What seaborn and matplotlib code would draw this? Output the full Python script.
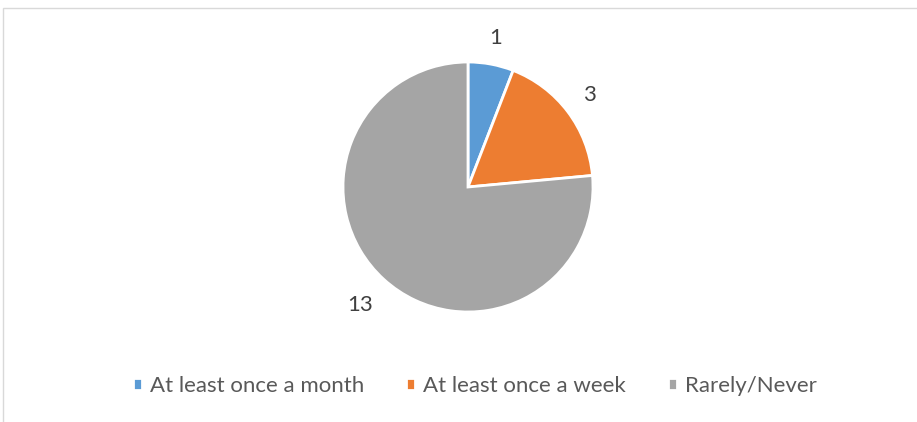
import matplotlib
matplotlib.use("Agg")
import numpy as np
import matplotlib.pyplot as plt
from matplotlib.patches import Rectangle
import seaborn as sns

categories = ["At least once a month", "At least once a week", "Rarely/Never"]
counts = [1, 3, 13]
colors = ["#5B9BD5", "#ED7D31", "#A5A5A5"]
label_dist = [1.21, 1.22, 1.28]

sns.set_theme(style="white")
plt.rcParams["font.family"] = ["Lato", "DejaVu Sans"]

W, H = 917, 422
fig = plt.figure(figsize=(W / 100, H / 100), dpi=100)

# chart frame (extends past right and bottom edges)
fig.patches.append(Rectangle((3 / W, -0.1), 1.1, 1.1 - 8 / H, transform=fig.transFigure,
                             fill=False, edgecolor="#D9D9D9", linewidth=1.0))

cx, cy, r = 468, 187, 125
ax = fig.add_axes([(cx - r) / W, (H - cy - r) / H, 2 * r / W, 2 * r / H])
wedges, _ = ax.pie(
    counts,
    colors=colors,
    startangle=90,
    counterclock=False,
    wedgeprops=dict(edgecolor="white", linewidth=2),
)
for w, c, d in zip(wedges, counts, label_dist):
    mid = np.deg2rad((w.theta1 + w.theta2) / 2)
    ax.text(d * np.cos(mid), d * np.sin(mid), str(c), ha="center", va="center",
            color="#404040", fontsize=16)
ax.set_xlim(-1, 1)
ax.set_ylim(-1, 1)
ax.set_aspect("equal")
ax.axis("off")

fig.legend(
    wedges, categories,
    loc="center", bbox_to_anchor=(475 / W, 1 - 386 / H),
    ncol=3, frameon=False, fontsize=16,
    handlelength=0.4, handleheight=0.4, handletextpad=0.36,
    columnspacing=1.9, labelcolor="#595959",
)

fig.savefig("out.png", dpi=100)
